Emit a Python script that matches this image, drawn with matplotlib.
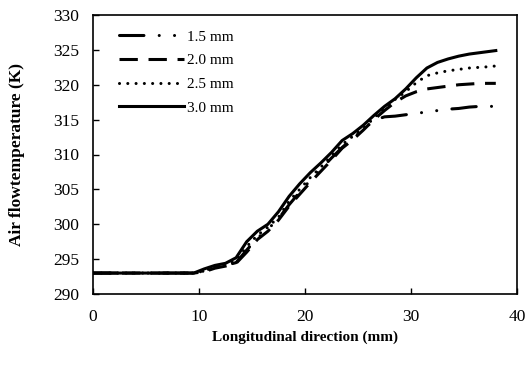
import matplotlib
matplotlib.use("Agg")
import matplotlib.pyplot as plt

plt.rcParams['font.family'] = ['Liberation Serif', 'DejaVu Serif']

x = [0, 5, 9.5, 10.5, 11.5, 12.5, 13.5, 14.5, 15.5, 16.5, 17.5, 18.5, 19.5, 20.5,
     21.5, 22.5, 23.5, 24.5, 25.5, 26.5, 27.5, 28.5, 29.5, 30.5, 31.5, 32.5, 33.5,
     34.5, 35.5, 36.5, 37.5, 38]
t30 = [293, 293, 293, 293.6, 294.1, 294.4, 295.2, 297.5, 299.0, 300.0, 301.8, 304.0,
       305.8, 307.4, 308.8, 310.3, 312.0, 313.0, 314.2, 315.6, 316.9, 318.0, 319.4,
       321.0, 322.4, 323.2, 323.7, 324.1, 324.4, 324.6, 324.8, 324.9]
t25 = [293, 293, 293, 293.3, 293.9, 294.2, 294.8, 296.8, 298.4, 299.6, 301.0, 303.3,
       305.0, 306.7, 308.2, 309.8, 311.4, 312.6, 313.8, 315.2, 316.7, 317.9, 319.0,
       320.3, 321.3, 321.7, 322.0, 322.2, 322.4, 322.5, 322.6, 322.7]
t20 = [293, 293, 293, 293.2, 293.7, 294.0, 294.4, 296.0, 297.8, 299.0, 300.6, 302.6,
       304.3, 306.0, 307.6, 309.2, 310.9, 312.1, 313.5, 315.0, 316.3, 317.5, 318.4,
       319.0, 319.4, 319.6, 319.8, 320.0, 320.1, 320.2, 320.2, 320.2]
t15 = [293, 293, 293, 293.3, 293.8, 294.1, 294.5, 296.3, 298.0, 299.3, 300.8, 302.8,
       304.6, 306.3, 307.9, 309.5, 311.0, 312.3, 313.6, 314.9, 315.4, 315.5, 315.7,
       315.9, 316.1, 316.3, 316.5, 316.6, 316.8, 316.9, 316.9, 316.9]
labels = ['1.5 mm', '2.0 mm', '2.5 mm', '3.0 mm']

fig = plt.figure(figsize=(5.28, 3.68), dpi=100)
ax = fig.add_axes([93/528, 1 - 294/368, 424/528, 279/368])

ax.plot(x, t15, color='black', lw=2.2, linestyle=(0, (8, 5, 0.01, 5, 0.01, 5)),
        dash_capstyle='round', label=labels[0])
ax.plot(x, t20, color='black', lw=2.2, linestyle=(0, (6, 3.5)), label=labels[1])
ax.plot(x, t25, color='black', lw=2.2, linestyle=(0, (0.01, 2.7)),
        dash_capstyle='round', label=labels[2])
ax.plot(x, t30, color='black', lw=2.2, linestyle='-', label=labels[3])

ax.set_xlim(0, 40)
ax.set_ylim(290, 330)
ax.set_xticks([0, 10, 20, 30, 40])
ax.set_yticks(range(290, 331, 5))
ax.tick_params(direction='in', labelsize=12.5, length=4, width=1, top=False, right=False)
ax.tick_params(axis='x', pad=11)
ax.tick_params(axis='y', pad=10)
for s in ax.spines.values():
    s.set_linewidth(1.2)

ax.set_xlabel('Longitudinal direction (mm)', fontsize=11, fontweight='bold', labelpad=3.5)
ax.set_ylabel('Air flowtemperature (K)', fontsize=12.5, fontweight='bold', labelpad=20)

ax.legend(loc='upper left', frameon=False, fontsize=11, handlelength=4.3,
          handletextpad=0.2, labelspacing=0.65, borderaxespad=0.5,
          bbox_to_anchor=(0.028, 0.995))

fig.savefig('out.png', dpi=100)
